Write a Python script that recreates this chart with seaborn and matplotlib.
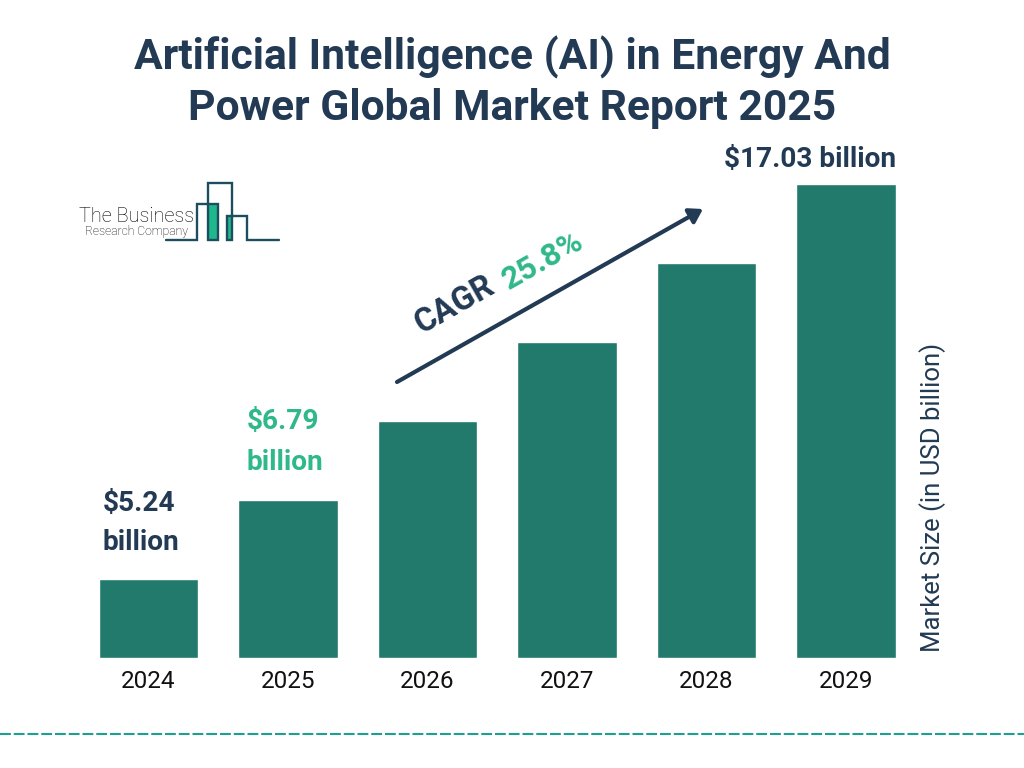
import matplotlib
matplotlib.use('Agg')
import matplotlib.pyplot as plt
import pandas as pd
import seaborn as sns
from matplotlib.lines import Line2D
from matplotlib.patches import FancyArrowPatch, Rectangle

# ---- data ----
years = ['2024', '2025', '2026', '2027', '2028', '2029']
# bar heights as drawn (the picture is not to scale, only the last bar matches its label)
bar_heights = [2.81, 5.65, 8.50, 11.34, 14.19, 17.03]
title = 'Artificial Intelligence (AI) in Energy And\nPower Global Market Report 2025'
axis_label = 'Market Size (in USD billion)'
label_2024 = ['$5.24', 'billion']
label_2025 = ['$6.79', 'billion']
label_2029 = '$17.03 billion'
cagr_text = 'CAGR'
cagr_value = '25.8%'

# colours
BAR = '#217a6b'
DARK = '#233a54'
GREEN = '#2fb88a'
TEAL = '#1fa08e'
LOGO = '#1d4e5f'

W, H = 1024, 768

sns.set_theme(style='white')
plt.rcParams['font.family'] = ['Roboto', 'DejaVu Sans']


def fx(px):
    return px / W


def fy(py):
    return 1 - py / H


def ftext(px, py, s, **kw):
    kw.setdefault('ha', 'center')
    kw.setdefault('va', 'center')
    fig.text(fx(px), fy(py), s, **kw)


fig = plt.figure(figsize=(W / 100, H / 100), dpi=100, facecolor='white')
ax = fig.add_axes([fx(78.75), fy(657.5), (915.75 - 78.75) / W, (657.5 - 183.5) / H])

df = pd.DataFrame({'year': years, 'size': bar_heights})
sns.barplot(data=df, x='year', y='size', color=BAR, saturation=1, width=0.71, ax=ax)
ax.set_xlim(-0.5, 5.5)
ax.set_ylim(0, max(bar_heights))
sns.despine(ax=ax, left=True, bottom=True, top=True, right=True)
ax.set_xlabel('')
ax.set_yticks([])
ax.tick_params(axis='x', length=0, labelsize=17.5, labelcolor='#111111', pad=9)
ax.yaxis.set_label_position('right')
ax.set_ylabel(axis_label, fontsize=18.5, color=DARK, rotation=90, va='center', ha='center')
ax.yaxis.set_label_coords((933 - 78.75) / (915.75 - 78.75), (657.5 - 497) / (657.5 - 183.5))

# title
ftext(512, 82, title, fontsize=30.7, fontweight='bold', color=DARK, linespacing=1.28)

# value labels
ftext(103, 503, label_2024[0], ha='left', fontsize=20.2, fontweight='bold', color=DARK)
ftext(103, 542, label_2024[1], ha='left', fontsize=20.2, fontweight='bold', color=DARK)
ftext(247, 422, label_2025[0], ha='left', fontsize=20.2, fontweight='bold', color=GREEN)
ftext(247, 462, label_2025[1], ha='left', fontsize=20.2, fontweight='bold', color=GREEN)
ftext(896, 160, label_2029, ha='right', fontsize=20.2, fontweight='bold', color=DARK)

# CAGR arrow and text
fig.add_artist(FancyArrowPatch(
    (fx(397), fy(382)), (fx(703), fy(209)), transform=fig.transFigure,
    arrowstyle='-|>,head_length=0.6,head_width=0.38', mutation_scale=13,
    lw=3, color=DARK, shrinkA=0, shrinkB=0))
ftext(455, 305, cagr_text, fontsize=23.5, fontweight='bold', color=DARK, rotation=29.5, rotation_mode='anchor')
ftext(543, 260, cagr_value, fontsize=23, fontweight='bold', color=GREEN, rotation=29.5, rotation_mode='anchor')

# logo
for x0, y0, x1, y1 in [(208, 204, 218, 239.5), (227, 216, 232, 239.5)]:
    fig.add_artist(Rectangle((fx(x0), fy(y1)), (x1 - x0) / W, (y1 - y0) / H,
                             transform=fig.transFigure, facecolor='#1fb88c', edgecolor='none'))
skyline = [(166, 239.5), (197, 239.5), (197, 204), (218, 204), (218, 239.5), (208, 239.5), (208, 183),
           (232, 183), (232, 239.5), (227, 239.5), (227, 216), (247, 216), (247, 239.5), (279, 239.5)]
fig.add_artist(Line2D([fx(p[0]) for p in skyline], [fy(p[1]) for p in skyline], transform=fig.transFigure,
                      color=LOGO, lw=1.7, solid_joinstyle='miter'))
ftext(79, 217, 'The Business', ha='left', fontsize=14.3, fontweight='light', color='black')
ftext(85, 231, 'Research Company', ha='left', fontsize=8.7, fontweight='light', color='black')

# dashed rule at the bottom
fig.add_artist(Line2D([0, 1], [fy(734), fy(734)], transform=fig.transFigure,
                      color=TEAL, lw=1.5, dashes=(5.2, 1.4), dash_capstyle='butt'))

fig.savefig('out.png', dpi=100, facecolor='white')
